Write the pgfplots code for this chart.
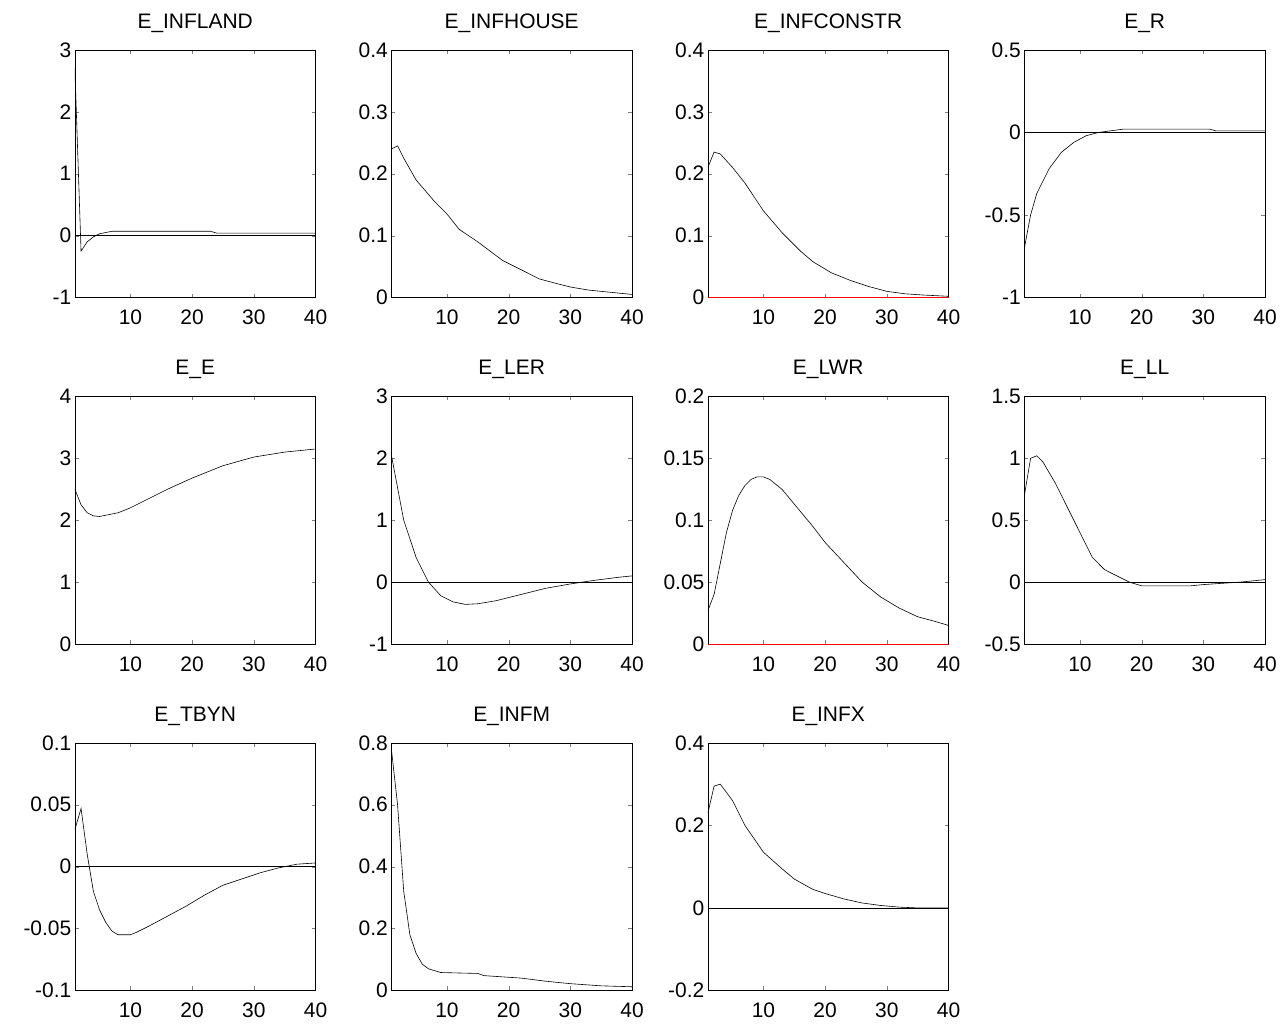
\documentclass[border=0pt]{standalone}
\usepackage{pgfplots}
\pgfplotsset{compat=1.18}
\usepgfplotslibrary{groupplots}
\usepackage{fontspec}
\setmainfont{Liberation Sans}
\begin{document}
\begin{tikzpicture}
\pgfplotsset{every axis/.append style={
  scale only axis, width=241pt, height=248pt, xmin=1, xmax=40, xtick={10,20,30,40},
  tick align=inside, ticklabel style={font=\fontsize{21}{24}\selectfont},
  xticklabel style={yshift=-9pt},
  title style={font=\fontsize{21}{24}\selectfont, yshift=8pt},
  /pgf/number format/assume math mode=true, /pgf/number format/fixed,
  yticklabel style={/pgf/number format/fixed}, line width=0.5pt, axis line style={line width=0.5pt},
  major tick length=4pt},
  zl/.style={black, thin, forget plot}, sr/.style={black, line width=0.6pt}}
\begin{groupplot}[group style={group name=G, group size=4 by 3, horizontal sep=76pt, vertical sep=99pt}]
\nextgroupplot[title={E\_INFLAND}, ymin=-1, ymax=3, ytick={-1,0,1,2,3}]
\addplot[zl] coordinates {(1,0)(40,0)};
\addplot[sr] coordinates {(1,2.7)(2,-0.25)(3,-0.1)(4,-0.02)(5,0.03)(7,0.07)(23,0.07)(24,0.04)(40,0.04)};
\nextgroupplot[title={E\_INFHOUSE}, ymin=0, ymax=0.4, ytick={0,0.1,0.2,0.3,0.4}]
\addplot[zl] coordinates {(1,0)(40,0)};
\addplot[sr] coordinates {(1,0.24)(2,0.245)(3,0.225)(5,0.19)(8,0.155)(10,0.135)(12,0.11)(15,0.09)(17,0.075)(19,0.06)(22,0.045)(25,0.03)(28,0.022)(30,0.017)(33,0.012)(36,0.009)(40,0.005)};
\nextgroupplot[title={E\_INFCONSTR}, ymin=0, ymax=0.4, ytick={0,0.1,0.2,0.3,0.4}]
\addplot[zl, red] coordinates {(1,0.001)(40,0.001)};
\addplot[sr] coordinates {(1,0.21)(2,0.235)(3,0.232)(5,0.21)(7,0.185)(10,0.14)(13,0.105)(16,0.075)(18,0.058)(21,0.04)(24,0.028)(27,0.018)(30,0.01)(33,0.006)(36,0.004)(40,0.002)};
\nextgroupplot[title={E\_R}, ymin=-1, ymax=0.5, ytick={-1,-0.5,0,0.5}]
\addplot[zl] coordinates {(1,0)(40,0)};
\addplot[sr] coordinates {(1,-0.7)(2,-0.5)(3,-0.37)(5,-0.22)(7,-0.12)(9,-0.06)(11,-0.02)(13,0.0)(15,0.01)(17,0.02)(31,0.02)(32,0.01)(40,0.01)};
\nextgroupplot[title={E\_E}, ymin=0, ymax=4, ytick={0,1,2,3,4}]
\addplot[zl] coordinates {(1,0)(40,0)};
\addplot[sr] coordinates {(1,2.5)(2,2.25)(3,2.12)(4,2.07)(5,2.06)(8,2.12)(10,2.2)(13,2.35)(16,2.5)(20,2.68)(25,2.88)(30,3.02)(35,3.1)(40,3.15)};
\nextgroupplot[title={E\_LER}, ymin=-1, ymax=3, ytick={-1,0,1,2,3}]
\addplot[zl] coordinates {(1,0)(40,0)};
\addplot[sr] coordinates {(1,2.05)(3,1.0)(5,0.4)(7,0.0)(9,-0.22)(11,-0.32)(13,-0.36)(15,-0.35)(18,-0.3)(22,-0.2)(26,-0.1)(30,-0.03)(34,0.03)(38,0.08)(40,0.1)};
\nextgroupplot[title={E\_LWR}, ymin=0, ymax=0.2, ytick={0,0.05,0.1,0.15,0.2}]
\addplot[zl, red] coordinates {(1,0)(40,0)};
\addplot[sr] coordinates {(1,0.027)(2,0.04)(3,0.065)(4,0.09)(5,0.108)(6,0.12)(7,0.128)(8,0.133)(9,0.135)(10,0.135)(11,0.133)(13,0.125)(15,0.113)(18,0.095)(20,0.082)(23,0.066)(26,0.05)(29,0.038)(32,0.029)(35,0.022)(38,0.018)(40,0.015)};
\nextgroupplot[title={E\_LL}, ymin=-0.5, ymax=1.5, ytick={-0.5,0,0.5,1,1.5}]
\addplot[zl] coordinates {(1,0)(40,0)};
\addplot[sr] coordinates {(1,0.7)(2,1.0)(3,1.02)(4,0.97)(6,0.8)(8,0.6)(10,0.4)(12,0.2)(14,0.1)(16,0.05)(18,0.0)(20,-0.03)(28,-0.03)(30,-0.02)(36,0.0)(40,0.02)};
\nextgroupplot[title={E\_TBYN}, ymin=-0.1, ymax=0.1, ytick={-0.1,-0.05,0,0.05,0.1}]
\addplot[zl] coordinates {(1,0)(40,0)};
\addplot[sr] coordinates {(1,0.03)(2,0.047)(3,0.01)(4,-0.02)(5,-0.035)(6,-0.045)(7,-0.052)(8,-0.055)(10,-0.055)(11,-0.053)(13,-0.048)(16,-0.04)(19,-0.032)(22,-0.023)(25,-0.015)(28,-0.01)(31,-0.005)(34,-0.001)(37,0.002)(40,0.003)};
\nextgroupplot[title={E\_INFM}, ymin=0, ymax=0.8, ytick={0,0.2,0.4,0.6,0.8}]
\addplot[zl] coordinates {(1,0)(40,0)};
\addplot[sr] coordinates {(1,0.78)(2,0.6)(3,0.32)(4,0.18)(5,0.12)(6,0.085)(7,0.07)(9,0.058)(15,0.055)(16,0.048)(22,0.04)(26,0.03)(30,0.022)(35,0.015)(40,0.012)};
\nextgroupplot[title={E\_INFX}, ymin=-0.2, ymax=0.4, ytick={-0.2,0,0.2,0.4}]
\addplot[zl] coordinates {(1,0)(40,0)};
\addplot[sr] coordinates {(1,0.23)(2,0.295)(3,0.3)(5,0.26)(7,0.2)(10,0.135)(13,0.095)(15,0.07)(18,0.045)(20,0.035)(23,0.022)(26,0.012)(29,0.006)(32,0.002)(35,0)(40,0)};
\end{groupplot}
\pgfresetboundingbox
\path ([xshift=-75pt,yshift=50pt]G c1r1.north west) rectangle ([xshift=21pt,yshift=-39pt]G c1r3.south west -| G c4r2.east);
\end{tikzpicture}
\end{document}
